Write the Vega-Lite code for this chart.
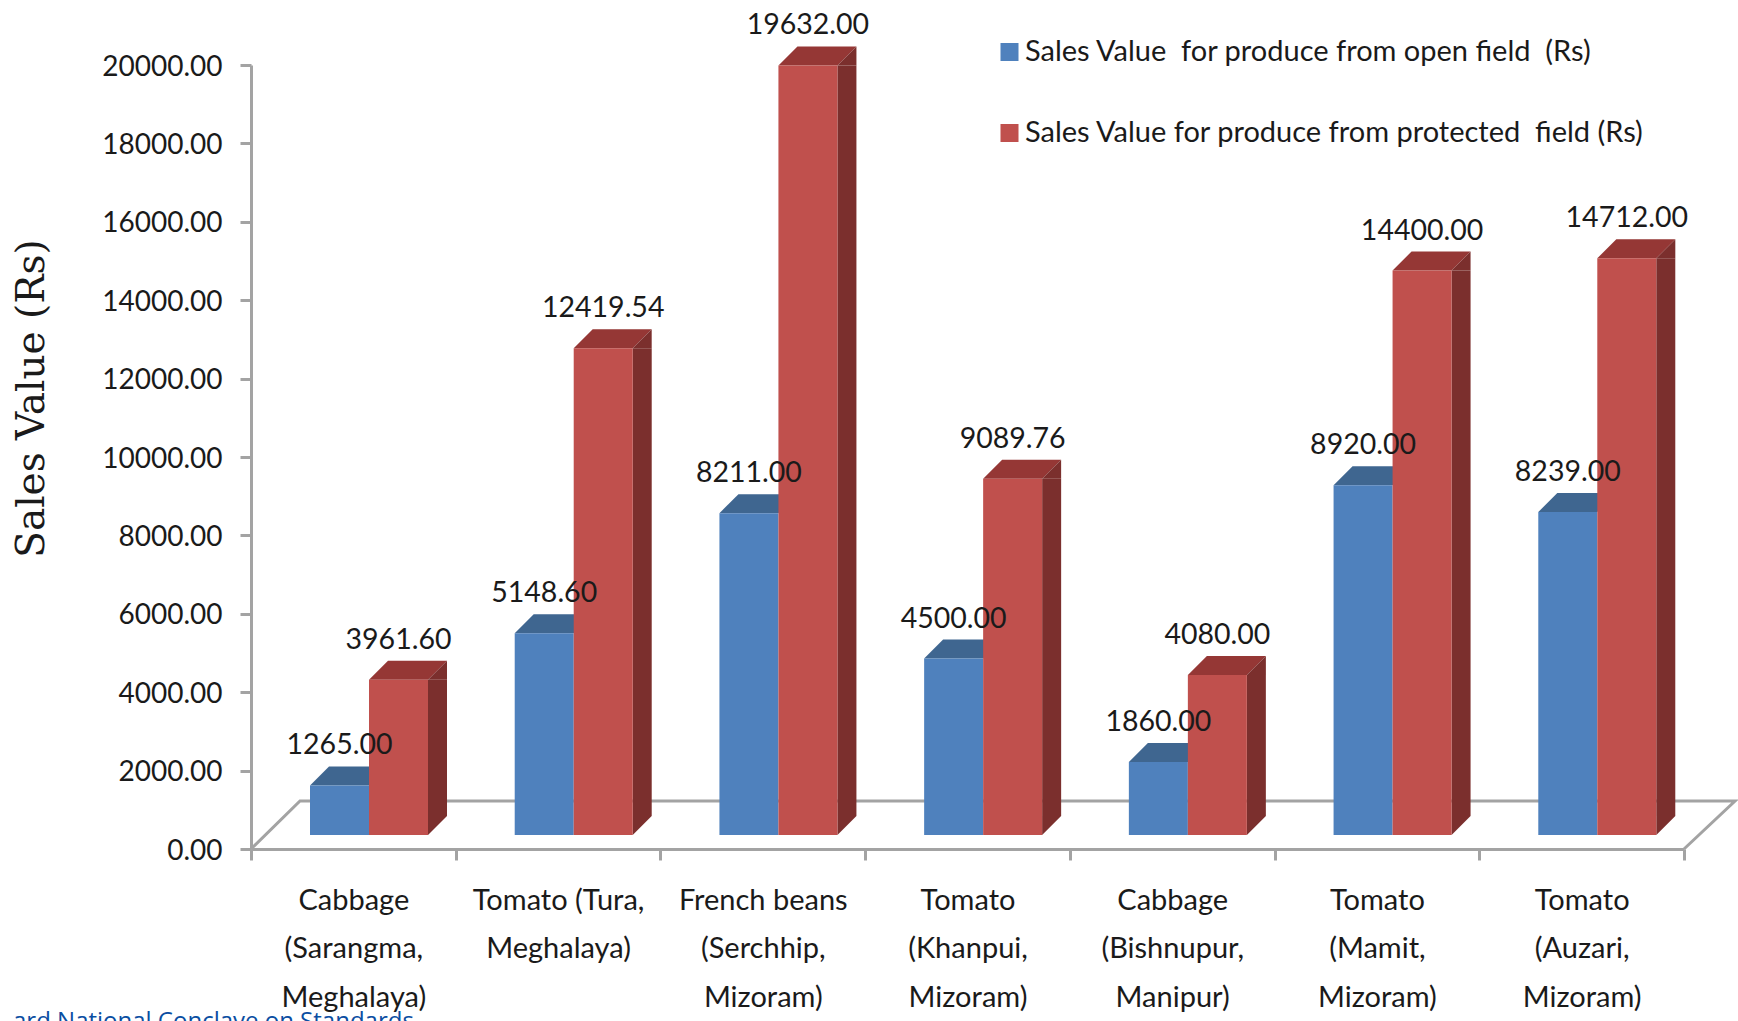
{
"$schema":"https://vega.github.io/schema/vega-lite/v6.json",
"width":1433,"height":784,
"autosize":{"type":"none"},
"padding":{"left":251,"top":65,"right":54,"bottom":172},
"background":"white",
"config":{"view":{"stroke":null},"font":"Lato"},
"datasets":{"sales":[
{"crop":"Cabbage|(Sarangma,|Meghalaya)","series":"Sales Value \u00a0for produce from open field \u00a0(Rs)","value":1265},
{"crop":"Cabbage|(Sarangma,|Meghalaya)","series":"Sales Value for produce from protected \u00a0field (Rs)","value":3961.6},
{"crop":"Tomato (Tura,|Meghalaya)","series":"Sales Value \u00a0for produce from open field \u00a0(Rs)","value":5148.6},
{"crop":"Tomato (Tura,|Meghalaya)","series":"Sales Value for produce from protected \u00a0field (Rs)","value":12419.54},
{"crop":"French beans|(Serchhip,|Mizoram)","series":"Sales Value \u00a0for produce from open field \u00a0(Rs)","value":8211},
{"crop":"French beans|(Serchhip,|Mizoram)","series":"Sales Value for produce from protected \u00a0field (Rs)","value":19632},
{"crop":"Tomato|(Khanpui,|Mizoram)","series":"Sales Value \u00a0for produce from open field \u00a0(Rs)","value":4500},
{"crop":"Tomato|(Khanpui,|Mizoram)","series":"Sales Value for produce from protected \u00a0field (Rs)","value":9089.76},
{"crop":"Cabbage|(Bishnupur,|Manipur)","series":"Sales Value \u00a0for produce from open field \u00a0(Rs)","value":1860},
{"crop":"Cabbage|(Bishnupur,|Manipur)","series":"Sales Value for produce from protected \u00a0field (Rs)","value":4080},
{"crop":"Tomato|(Mamit,|Mizoram)","series":"Sales Value \u00a0for produce from open field \u00a0(Rs)","value":8920},
{"crop":"Tomato|(Mamit,|Mizoram)","series":"Sales Value for produce from protected \u00a0field (Rs)","value":14400},
{"crop":"Tomato|(Auzari,|Mizoram)","series":"Sales Value \u00a0for produce from open field \u00a0(Rs)","value":8239},
{"crop":"Tomato|(Auzari,|Mizoram)","series":"Sales Value for produce from protected \u00a0field (Rs)","value":14712}
]},
"data":{"name":"sales"},
"encoding":{
"x":{"field":"crop","type":"nominal","sort":null,"title":null,
"scale":{"paddingInner":0,"paddingOuter":0},
"axis":{"labelExpr":"split(datum.label,'|')","labelAngle":0,"labelFont":"Lato","labelFontSize":29,"labelColor":"#1a1a1a","labelLineHeight":48.5,"labelPadding":26,"labelLimit":0,"labelOverlap":false,"labelBound":false,"labelFlush":false,"tickBand":"extent","tickSize":11,"tickWidth":3,"tickColor":"#a3a3a3","domain":true,"domainColor":"#a3a3a3","domainWidth":3,"grid":false,"zindex":1}},
"y":{"field":"value","type":"quantitative","stack":null,
"scale":{"domain":[0,20000],"nice":false,"zero":true},
"title":"Sales Value (Rs)",
"axis":{"values":[0,2000,4000,6000,8000,10000,12000,14000,16000,18000,20000],"format":".2f","labelFont":"Lato","labelFontSize":28,"labelColor":"#1a1a1a","labelPadding":18,"labelOffset":2,"tickSize":11,"tickWidth":3,"tickColor":"#a3a3a3","domain":true,"domainColor":"#a3a3a3","domainWidth":3,"grid":false,
"titleFont":"DejaVu Serif","titleFontSize":39,"titleFontWeight":"normal","titleColor":"#1a1a1a","titleX":-220,"titleY":333,"titleAlign":"center","titleBaseline":"middle","titleAngle":270}},
"xOffset":{"field":"series","type":"nominal","sort":null,"scale":{"range":[59,177],"paddingInner":0,"paddingOuter":0}}
},
"layer":[
{"mark":{"type":"point","shape":"M0,0L49,-48L1484,-48L1433,0","size":4,"filled":false,"fill":"transparent","stroke":"#a3a3a3","strokeWidth":3,"opacity":1},
 "transform":[{"filter":"datum.crop==='Cabbage|(Sarangma,|Meghalaya)' && datum.value<2000"}],
 "encoding":{"xOffset":{"value":0},"x":{"datum":"Cabbage|(Sarangma,|Meghalaya)"},"y":{"datum":0}}},
{"mark":{"type":"point","shape":"M-29.5,-14L29.5,-14L48.5,-33L-10.5,-33Z","size":4,"filled":true,"color":"#3F6690","opacity":1},
 "transform":[{"filter":"indexof(datum.series,'open')>=0"}]},
{"mark":{"type":"point","shape":"M-29.5,-14L29.5,-14L48.5,-33L-10.5,-33Z","size":4,"filled":true,"color":"#953735","opacity":1},
 "transform":[{"filter":"indexof(datum.series,'protected')>=0"}]},
{"mark":{"type":"point","shape":"M29.5,-14L48.5,-33L48.5,-14Z","size":4,"filled":true,"color":"#7B2F2D","opacity":1},
 "transform":[{"filter":"indexof(datum.series,'protected')>=0"}]},
{"mark":{"type":"rule","strokeWidth":19,"yOffset":-14,"y2Offset":-33,"color":"#7B2F2D"},
 "transform":[{"filter":"indexof(datum.series,'protected')>=0"}],
 "encoding":{"xOffset":{"value":186.5},"y2":{"datum":0}}},
{"mark":{"type":"point","shape":"M29.5,-14L29.5,-33L48.5,-33Z","size":4,"filled":true,"color":"#7B2F2D","opacity":1},
 "transform":[{"filter":"indexof(datum.series,'protected')>=0"}],
 "encoding":{"y":{"datum":0}}},
{"mark":{"type":"bar","yOffset":-14,"y2Offset":-14},
 "encoding":{"y2":{"datum":0},"color":{"field":"series","type":"nominal","sort":null,
 "scale":{"range":["#4F81BD","#C0504D"]},
 "legend":{"title":null,"orient":"none","legendX":744,"legendY":-31,"direction":"vertical","columns":1,"symbolType":"square","symbolSize":324,"symbolStrokeWidth":0,"symbolOpacity":1,"labelFont":"Lato","labelFontSize":29,"labelColor":"#1a1a1a","labelLimit":0,"labelOffset":1,"rowPadding":45,"clipHeight":36}}}},
{"mark":{"type":"text","fontSize":28.5,"font":"Lato","color":"#1a1a1a","baseline":"middle","align":"center","dy":-54},
 "encoding":{"text":{"field":"value","type":"quantitative","format":".2f"}}},
{"mark":{"type":"text","text":"ard National Conclave on Standards","font":"Open Sans","fontSize":24,"color":"#0b4ea2","align":"left","baseline":"alphabetic","dx":-238,"dy":180},
 "transform":[{"filter":"datum.crop==='Cabbage|(Sarangma,|Meghalaya)' && datum.value<2000"}],
 "encoding":{"xOffset":{"value":0},"x":{"datum":"Cabbage|(Sarangma,|Meghalaya)"},"y":{"datum":0}}}
]
}
